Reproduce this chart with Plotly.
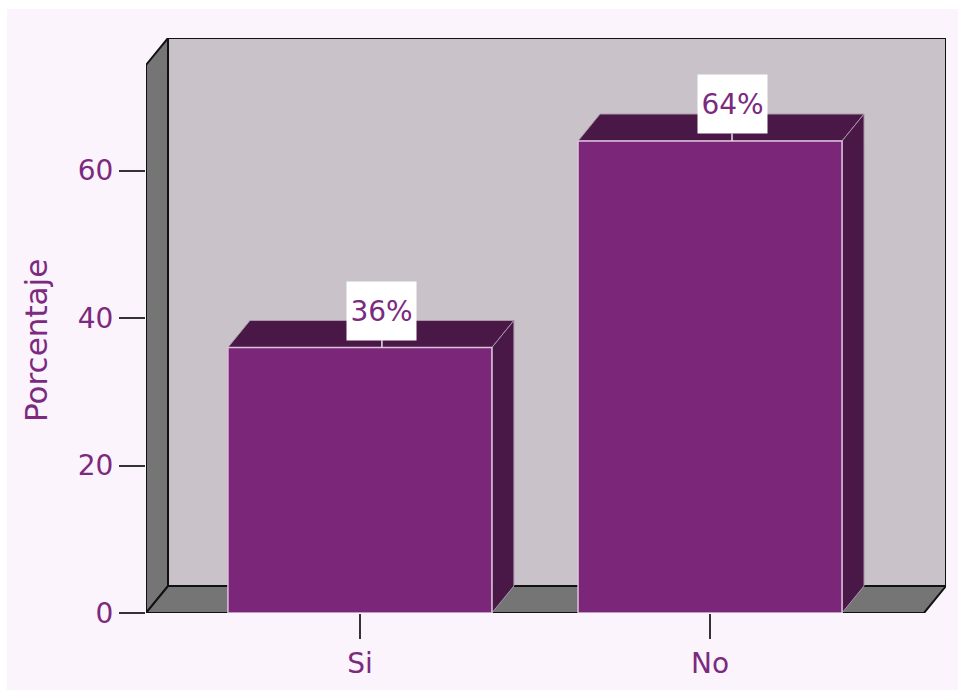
import plotly.graph_objects as go

# ---- data ----
categories = ["Si", "No"]
values = [36, 64]
labels = ["36%", "64%"]
y_ticks = [0, 20, 40, 60]
y_title = "Porcentaje"

# ---- style / geometry constants ----
x_pos = [0, 1]
bar_w = 0.754
x_lo, x_hi = -0.611, 1.674
y_hi = 77.97
ddx = 22 / 350.0   # depth offset in x units
ddy = 3.66         # depth offset in y units

PINK = "#fcf4fc"
WALL = "#c9c3c9"
SIDE = "#757575"
BAR = "#7b2679"
BAR_DARK = "#4a1847"
TXT = "#7b2a7e"
FONT = "DejaVu Sans"

fig = go.Figure()

fig.add_trace(go.Bar(
    x=x_pos, y=values, width=bar_w,
    marker=dict(color=BAR, line=dict(color="#dcc4dc", width=1.5)),
    hoverinfo="skip",
))

shapes = []
# white frame strips on the top/left of the page
shapes.append(dict(type="rect", xref="paper", yref="paper",
                   x0=-146 / 800, x1=(958 - 146) / 800,
                   y0=(613 - 9) / 575, y1=613 / 575,
                   fillcolor="white", line=dict(width=0), layer="below"))
shapes.append(dict(type="rect", xref="paper", yref="paper",
                   x0=-146 / 800, x1=(7 - 146) / 800,
                   y0=-77 / 575, y1=613 / 575,
                   fillcolor="white", line=dict(width=0), layer="below"))
# back wall
shapes.append(dict(type="rect", xref="x", yref="y",
                   x0=x_lo + ddx, x1=x_hi, y0=ddy, y1=y_hi,
                   fillcolor=WALL, line=dict(color="#111", width=2), layer="below"))
# left wall
shapes.append(dict(type="path", xref="x", yref="y",
                   path=f"M {x_lo},0 L {x_lo+ddx},{ddy} L {x_lo+ddx},{y_hi} L {x_lo},{y_hi-ddy} Z",
                   fillcolor=SIDE, line=dict(color="#111", width=2), layer="below"))
# floor
shapes.append(dict(type="path", xref="x", yref="y",
                   path=f"M {x_lo},0 L {x_hi-ddx},0 L {x_hi},{ddy} L {x_lo+ddx},{ddy} Z",
                   fillcolor=SIDE, line=dict(color="#111", width=2), layer="below"))

# bar top & side faces
for xp, v in zip(x_pos, values):
    l, r = xp - bar_w / 2, xp + bar_w / 2
    shapes.append(dict(type="path", xref="x", yref="y",
                       path=f"M {l},{v} L {l+ddx},{v+ddy} L {r+ddx},{v+ddy} L {r},{v} Z",
                       fillcolor=BAR_DARK, line=dict(color="#a898a8", width=1), layer="below"))
    shapes.append(dict(type="path", xref="x", yref="y",
                       path=f"M {r},0 L {r+ddx},{ddy} L {r+ddx},{v+ddy} L {r},{v} Z",
                       fillcolor=BAR_DARK, line=dict(color="#a898a8", width=1), layer="below"))

annotations = []
for xp, v, t in zip(x_pos, values, labels):
    annotations.append(dict(
        x=xp + ddx, y=v, xref="x", yref="y", text=t,
        showarrow=True, arrowhead=0, arrowwidth=1.5, arrowcolor="#e8dee8",
        ax=0, ay=-37, bgcolor="white", width=69, height=58, borderpad=0,
        font=dict(family=FONT, size=28, color=TXT),
    ))
# y-axis title
annotations.append(dict(
    x=(36 - 146) / 800, y=(613 - 340) / 575, xref="paper", yref="paper",
    text=y_title, textangle=-90, showarrow=False,
    xanchor="center", yanchor="middle",
    font=dict(family=FONT, size=31, color=TXT),
))

fig.update_layout(
    width=958, height=690,
    margin=dict(l=146, r=12, t=38, b=77),
    paper_bgcolor=PINK, plot_bgcolor=PINK,
    showlegend=False,
    shapes=shapes, annotations=annotations,
    font=dict(family=FONT, color=TXT, size=28),
    xaxis=dict(range=[x_lo, x_hi], tickvals=x_pos, ticktext=categories,
               showgrid=False, zeroline=False, showline=False, automargin=False,
               ticks="outside", ticklen=25, tickwidth=2, tickcolor="#333",
               tickfont=dict(family=FONT, size=28, color=TXT), fixedrange=True),
    yaxis=dict(range=[0, y_hi], tickvals=y_ticks,
               showgrid=False, zeroline=False, showline=False, automargin=False,
               ticks="outside", ticklen=26, tickwidth=2, tickcolor="#333",
               tickfont=dict(family=FONT, size=28, color=TXT),
               fixedrange=True),
)

fig.write_html("out.html")
